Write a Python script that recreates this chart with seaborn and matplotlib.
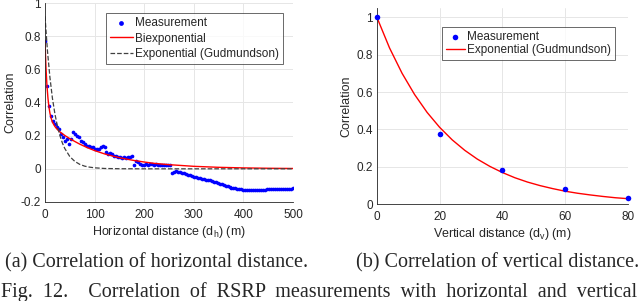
import numpy as np
import pandas as pd
import matplotlib
matplotlib.use('Agg')
import matplotlib.pyplot as plt
import matplotlib.ticker as mticker
import seaborn as sns

sns.set_style('white')
plt.rcParams['font.family'] = ['Liberation Sans', 'DejaVu Sans']
plt.rcParams['mathtext.fontset'] = 'custom'

# (a) horizontal distance: measurement every 4 m
h_dist = list(range(0, 501, 4))
h_meas = [0.77, 0.50, 0.38, 0.32, 0.29, 0.27, 0.25, 0.24, 0.21, 0.19,
          0.17, 0.18, 0.15, 0.18, 0.22, 0.21, 0.20, 0.19, 0.17, 0.16,
          0.15, 0.14, 0.14, 0.13, 0.13, 0.12, 0.12, 0.12, 0.13, 0.135,
          0.13, 0.10, 0.09, 0.095, 0.09, 0.08, 0.075, 0.07, 0.07, 0.065,
          0.07, 0.065, 0.07, 0.072, 0.075, 0.02, 0.045, 0.04, 0.03, 0.02,
          0.025, 0.03, 0.02, 0.03, 0.028, 0.025, 0.03, 0.022, 0.025, 0.02,
          0.025, 0.02, 0.025, 0.02, -0.025, -0.02, -0.015, -0.018, -0.02, -0.025,
          -0.028, -0.032, -0.036, -0.04, -0.045, -0.048, -0.05, -0.053, -0.056, -0.06,
          -0.062, -0.065, -0.066, -0.07, -0.075, -0.078, -0.08, -0.085, -0.09, -0.094,
          -0.098, -0.103, -0.106, -0.11, -0.113, -0.116, -0.118, -0.12, -0.122, -0.124,
          -0.126, -0.128, -0.127, -0.128, -0.126, -0.127, -0.126, -0.125, -0.127, -0.128,
          -0.127, -0.125, -0.123, -0.122, -0.12, -0.121, -0.12, -0.119, -0.12, -0.121,
          -0.12, -0.122, -0.121, -0.12, -0.12, -0.117]

# fitted curves
biexp_dist = [0, 2, 4, 6, 8, 10, 12, 15, 20, 25, 30, 40, 50, 60, 70, 80, 90, 100,
              120, 140, 160, 180, 200, 220, 250, 300, 350, 400, 450, 500]
biexp_corr = [0.77, 0.609, 0.499, 0.425, 0.372, 0.335, 0.309, 0.281, 0.255, 0.237,
              0.223, 0.201, 0.182, 0.165, 0.149, 0.135, 0.122, 0.110,
              0.090, 0.074, 0.061, 0.050, 0.041, 0.033, 0.025, 0.015, 0.009, 0.0055, 0.0033, 0.002]

gud_h_dist = [0, 5, 10, 15, 20, 25, 30, 35, 40, 50, 60, 70, 80, 90, 100, 120, 150, 200, 300, 400, 500]
gud_h_corr = [0.92, 0.71, 0.55, 0.425, 0.331, 0.258, 0.201, 0.156, 0.122, 0.074, 0.045,
              0.027, 0.016, 0.010, 0.006, 0.002, 0.0005, 0.0, 0.0, 0.0, 0.0]

# (b) vertical distance
v_dist = [0, 20, 40, 60, 80]
v_meas = [1.0, 0.375, 0.185, 0.08, 0.035]

gud_v_dist = list(range(0, 81, 4))
gud_v_corr = [1.000, 0.837, 0.701, 0.587, 0.491, 0.411, 0.344, 0.288, 0.241, 0.202, 0.169,
              0.141, 0.118, 0.099, 0.083, 0.069, 0.058, 0.049, 0.041, 0.034, 0.029]

fig = plt.figure(figsize=(6.4, 3.01), dpi=100)
ax1 = fig.add_axes([0.0703, 0.329, 0.3875, 0.661])
ax2 = fig.add_axes([0.589, 0.322, 0.392, 0.651])

tick_col = '#262626'
for ax in (ax1, ax2):
    ax.grid(True, color='#e6e6e6', linewidth=0.7)
    ax.set_axisbelow(True)
    for s in ('top', 'right'):
        ax.spines[s].set_visible(False)
    for s in ('left', 'bottom'):
        ax.spines[s].set_color(tick_col)
        ax.spines[s].set_linewidth(0.6)
    ax.tick_params(direction='in', length=3, width=0.6, labelsize=8.5,
                   colors=tick_col, pad=3)
    ax.tick_params(axis='x', pad=5)
    ax.yaxis.set_major_formatter(mticker.FormatStrFormatter('%g'))

# left panel
sns.scatterplot(x=h_dist, y=h_meas, ax=ax1, color='#0000ff', s=7, linewidth=0,
                marker='o', label='Measurement')
sns.lineplot(x=biexp_dist, y=biexp_corr, ax=ax1, color='#ff0000', linewidth=1,
             label='Biexponential', estimator=None, sort=False)
sns.lineplot(x=gud_h_dist, y=gud_h_corr, ax=ax1, color='#404040', linewidth=0.9,
             linestyle='--', label='Exponential (Gudmundson)', estimator=None, sort=False)
ax1.set_xlim(0, 500)
ax1.set_ylim(-0.2, 1)
ax1.set_xticks([0, 100, 200, 300, 400, 500])
ax1.set_yticks([-0.2, 0, 0.2, 0.4, 0.6, 0.8, 1])
ax1.set_xlabel('Horizontal distance (d$_{\\mathregular{h}}$) (m)', fontsize=9, color=tick_col, labelpad=2)
ax1.set_ylabel('Correlation', fontsize=9, color=tick_col, labelpad=3)
leg1 = ax1.legend(loc='upper right', bbox_to_anchor=(0.96, 0.95), fontsize=8.5,
                  frameon=True, fancybox=False, handlelength=1.9, handletextpad=0.2,
                  borderpad=0.35, labelspacing=0.3, borderaxespad=0, markerscale=1.3)
leg1.get_frame().set_edgecolor(tick_col)
leg1.get_frame().set_linewidth(0.6)

# right panel
sns.scatterplot(x=v_dist, y=v_meas, ax=ax2, color='#0000ff', s=16, linewidth=0,
                marker='o', label='Measurement', clip_on=False, zorder=3)
sns.lineplot(x=gud_v_dist, y=gud_v_corr, ax=ax2, color='#ff0000', linewidth=1,
             label='Exponential (Gudmundson)', estimator=None, sort=False)
ax2.set_xlim(0, 80)
ax2.set_ylim(0, 1.05)
ax2.set_xticks([0, 20, 40, 60, 80])
ax2.set_yticks([0, 0.2, 0.4, 0.6, 0.8, 1])
ax2.set_xlabel('Vertical distance (d$_{\\mathregular{v}}$) (m)', fontsize=9, color=tick_col, labelpad=2)
ax2.set_ylabel('Correlation', fontsize=9, color=tick_col, labelpad=3)
leg2 = ax2.legend(loc='upper right', bbox_to_anchor=(0.948, 0.903), fontsize=8.5,
                  frameon=True, fancybox=False, handlelength=1.6, handletextpad=0.2,
                  borderpad=0.3, labelspacing=0.15, borderaxespad=0)
leg2.get_frame().set_edgecolor(tick_col)
leg2.get_frame().set_linewidth(0.6)

serif = ['Liberation Serif', 'DejaVu Serif']
fig.text(5 / 640, 1 - 263 / 301, '(a) Correlation of horizontal distance.',
         ha='left', va='center', fontsize=14.5, family=serif)
fig.text(639 / 640, 1 - 263 / 301, '(b) Correlation of vertical distance.',
         ha='right', va='center', fontsize=14.5, family=serif)
fig.text(1 / 640, 1 - 292 / 301,
         'Fig.  12.    Correlation  of  RSRP  measurements  with  horizontal  and  vertical',
         ha='left', va='center', fontsize=14.5, family=serif)

fig.savefig('out.png', dpi=100)
